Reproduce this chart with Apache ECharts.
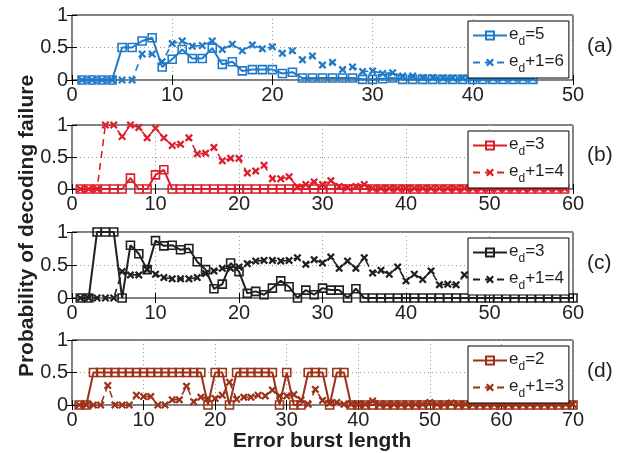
<!DOCTYPE html>
<html><head><meta charset="utf-8">
<script src="https://cdn.jsdelivr.net/npm/echarts@6/dist/echarts.min.js"></script>
<style>html,body{margin:0;padding:0;background:#fff}#c{width:619px;height:453px}</style>
</head><body><div id="c"></div>
<script>
// ---- Data ----
const xTicks = [0, 10, 20, 30, 40, 50, 60, 70];
const yTicks = [0, 0.5, 1];
const panelLabels = ['(a)', '(b)', '(c)', '(d)'];
const xMax = [50, 60, 60, 70];

// Panel (a): e_d = 5 and e_d+1 = 6 (x = 1..46)
const a_ed = [0,0,0,0,0.5,0.5,0.6,0.65,0.2,0.32,0.47,0.33,0.33,0.49,0.24,0.28,0.14,0.16,0.16,0.16,0.1,0.12,0.03,0.03,0.03,0.03,0.03,0.03,0.01,0.01,0.02,0.03,0.01,0.01,0.01,0.01,0.01,0.01,0.01,0.01,0.01,0.01,0.01,0.01,0.01,0.01];
const a_edp1 = [0,0,0,0,0,0,0.4,0.4,0.28,0.56,0.6,0.52,0.53,0.6,0.47,0.55,0.45,0.54,0.48,0.51,0.41,0.45,0.31,0.37,0.23,0.27,0.16,0.2,0.13,0.14,0.1,0.11,0.06,0.06,0.04,0.04,0.03,0.03,0.03,0.03,0.03,0.03,0.03,0.03,0.03,0.03];

// Panel (b): e_d = 3 and e_d+1 = 4 (x = 1..59)
const b_ed = [0,0,0,0,0,0,0.17,0,0,0.22,0.3,0,0,0,0,0,0,0,0,0,0,0,0,0,0,0,0,0,0,0,0,0,0,0,0,0,0,0,0,0,0,0,0,0,0,0,0,0,0,0,0,0,0,0,0,0,0,0,0];
const b_edp1 = [0,0,0,1,1,0.82,1,0.96,0.8,0.95,0.8,0.68,0.7,0.8,0.55,0.56,0.65,0.44,0.48,0.48,0.25,0.28,0.37,0.16,0.16,0.19,0.03,0.07,0.11,0.07,0.13,0.04,0.02,0.04,0.07,0.01,0.01,0.01,0.01,0.01,0.01,0.01,0.01,0.01,0.01,0.01,0.01,0.01,0.01,0.01,0.01,0.01,0.01,0.01,0.01,0.01,0.01,0.01,0.01];

// Panel (c): e_d = 3 and e_d+1 = 4 (x = 1..60 / 1..59)
const c_ed = [0,0,1,1,1,0,0.8,0.67,0.43,0.87,0.79,0.8,0.73,0.75,0.55,0.43,0.14,0.21,0.53,0.4,0.07,0.1,0.05,0.15,0.26,0.17,0,0.12,0.05,0.15,0.12,0.12,0,0.14,0,0,0,0,0,0,0,0,0,0,0,0,0,0,0,0,0,0,0,0,0,0,0,0,0,0];
const c_edp1 = [0,0,0,0,0,0.4,0.35,0.35,0.43,0.36,0.31,0.29,0.29,0.29,0.31,0.37,0.41,0.45,0.45,0.47,0.52,0.56,0.57,0.57,0.56,0.57,0.61,0.51,0.58,0.53,0.62,0.45,0.56,0.45,0.61,0.38,0.42,0.36,0.47,0.26,0.36,0.28,0.41,0.2,0.21,0.2,0.35,0.3,0.28,0.33,0.3,0.35,0.3,0.27,0.3,0.32,0.28,0.3,0.3];

// Panel (d): e_d = 2 and e_d+1 = 3 (x = 1..70)
const d_ed = [0,0,0.5,0.5,0.5,0.5,0.5,0.5,0.5,0.5,0.5,0.5,0.5,0.5,0.5,0.5,0.5,0.5,0,0.5,0.5,0,0.5,0.5,0.5,0.5,0.5,0.5,0,0.5,0,0,0.5,0.5,0.5,0,0.5,0.5,0,0,0,0,0,0,0,0,0,0,0,0,0,0,0,0,0,0,0,0,0,0,0,0,0,0,0,0,0,0,0,0];
const d_edp1 = [0,0,0,0,0.3,0,0,0,0.15,0.13,0.13,0,0,0.08,0.08,0.29,0.05,0.12,0.1,0.1,0.15,0.35,0.09,0.12,0.12,0.15,0.14,0.23,0.14,0.14,0.16,0.08,0.01,0.24,0.07,0.03,0.04,0.01,0.01,0.01,0.01,0.06,0.01,0.01,0.01,0.01,0.01,0.01,0.01,0.04,0.01,0.01,0.03,0.01,0.01,0.01,0.01,0.01,0.01,0.01,0.01,0.01,0.01,0.01,0.01,0.01,0.01,0.01,0.01,0.01];

const legendNames = [['5','6'], ['3','4'], ['3','4'], ['2','3']];
const colors = ['#1f7ac8', '#dc1f2b', '#231f20', '#9c3219'];
const panelData = [[a_ed, a_edp1], [b_ed, b_edp1], [c_ed, c_edp1], [d_ed, d_edp1]];

// ---- Layout ----
const gridTops = [15, 125, 232, 340];
const gridHeights = [65, 64, 66, 65];
const FONT = 'Liberation Sans, Arial, Helvetica, sans-serif';
const TXT = '#231f20';

const toPairs = arr => arr.map((v, i) => [i + 1, v]);
const crossPath = 'path://M0,2L2,0L5,3L8,0L10,2L7,5L10,8L8,10L5,7L2,10L0,8L3,5Z';

const grids = [], xAxes = [], yAxes = [], series = [], legends = [], graphics = [];
for (let p = 0; p < 4; p++) {
  grids.push({left: 72, width: 501, top: gridTops[p], height: gridHeights[p], show: true,
    borderColor: '#000', borderWidth: 1, backgroundColor: 'transparent'});
  const ticks = xTicks.filter(t => t <= xMax[p]);
  const common = {type: 'value', gridIndex: p, min: 0, max: xMax[p], interval: 10};
  xAxes.push(Object.assign({}, common, {position: 'bottom',
    axisLine: {show: false}, axisTick: {show: true, inside: true, length: 5, lineStyle: {color: '#000'}},
    axisLabel: {show: true, fontSize: 20, fontFamily: FONT, color: TXT, margin: 5,
      formatter: v => ticks.indexOf(v) >= 0 ? String(v) : ''},
    splitLine: {show: true, lineStyle: {color: '#9a9a9a', type: [1, 3], width: 1}}}));
  xAxes.push(Object.assign({}, common, {position: 'top',
    axisLine: {show: false}, axisTick: {show: true, inside: true, length: 5, lineStyle: {color: '#000'}},
    axisLabel: {show: false}, splitLine: {show: false}}));
  const yc = {type: 'value', gridIndex: p, min: 0, max: 1, interval: 0.5};
  yAxes.push(Object.assign({}, yc, {position: 'left',
    axisLine: {show: false}, axisTick: {show: true, inside: true, length: 5, lineStyle: {color: '#000'}},
    axisLabel: {show: true, fontSize: 20, fontFamily: FONT, color: TXT, margin: 4,
      formatter: v => yTicks.indexOf(v) >= 0 ? String(v) : ''},
    splitLine: {show: true, lineStyle: {color: '#9a9a9a', type: [1, 3], width: 1}}}));
  yAxes.push(Object.assign({}, yc, {position: 'right',
    axisLine: {show: false}, axisTick: {show: true, inside: true, length: 5, lineStyle: {color: '#000'}},
    axisLabel: {show: false}, splitLine: {show: false}}));

  const c = colors[p];
  const n1 = 'p' + p + 'a', n2 = 'p' + p + 'b';
  series.push({name: n2, type: 'line', xAxisIndex: 2 * p, yAxisIndex: 2 * p,
    data: toPairs(panelData[p][1]), symbol: crossPath, symbolSize: 8, color: c,
    itemStyle: {color: c, borderWidth: 0}, lineStyle: {color: c, width: 1.6, type: [7, 5]},
    animation: false, z: 2});
  series.push({name: n1, type: 'line', xAxisIndex: 2 * p, yAxisIndex: 2 * p,
    data: toPairs(panelData[p][0]), symbol: 'rect', symbolSize: 8, color: c,
    itemStyle: {color: 'rgba(255,255,255,0)', borderColor: c, borderWidth: 1.6},
    lineStyle: {color: c, width: 2}, animation: false, z: 3});

  const ln = legendNames[p];
  legends.push({data: [n1, n2], orient: 'vertical', left: 468, top: gridTops[p] + 6,
    backgroundColor: '#fff', borderColor: '#000', borderWidth: 1, borderRadius: 0,
    padding: [5, 5, 3, 4], itemWidth: 34, itemHeight: 10, itemGap: 5,
    selectedMode: false, z: 10,
    formatter: name => name === n1 ? '{n|e}{s|d}{n|=' + ln[0] + '}' : '{n|e}{s|d}{n|+1=' + ln[1] + '}',
    textStyle: {fontFamily: FONT, color: TXT, fontSize: 17, padding: [0, 0, 0, -3],
      rich: {n: {fontSize: 17, fontFamily: FONT, color: TXT, lineHeight: 19, verticalAlign: 'top'},
             s: {fontSize: 12, fontFamily: FONT, color: TXT, lineHeight: 12, verticalAlign: 'top', padding: [10, 0, 0, 0]}}}});

  graphics.push({type: 'text', left: 587, top: gridTops[p] + gridHeights[p] / 2 - 12,
    style: {text: panelLabels[p], font: '21px ' + FONT, fill: TXT}});
}
graphics.push({type: 'text', x: 27, y: 226, rotation: Math.PI / 2,
  style: {text: 'Probability of decoding failure', font: 'bold 21px ' + FONT, fill: TXT,
    textAlign: 'center', textVerticalAlign: 'middle'}});
graphics.push({type: 'text', x: 322, y: 441,
  style: {text: 'Error burst length', font: 'bold 21px ' + FONT, fill: TXT,
    textAlign: 'center', textVerticalAlign: 'middle'}});

const chart = echarts.init(document.getElementById('c'), null, {renderer: 'canvas'});
chart.setOption({animation: false, backgroundColor: '#fff', grid: grids, xAxis: xAxes, yAxis: yAxes,
  series: series, legend: legends, graphic: graphics});
</script></body></html>
